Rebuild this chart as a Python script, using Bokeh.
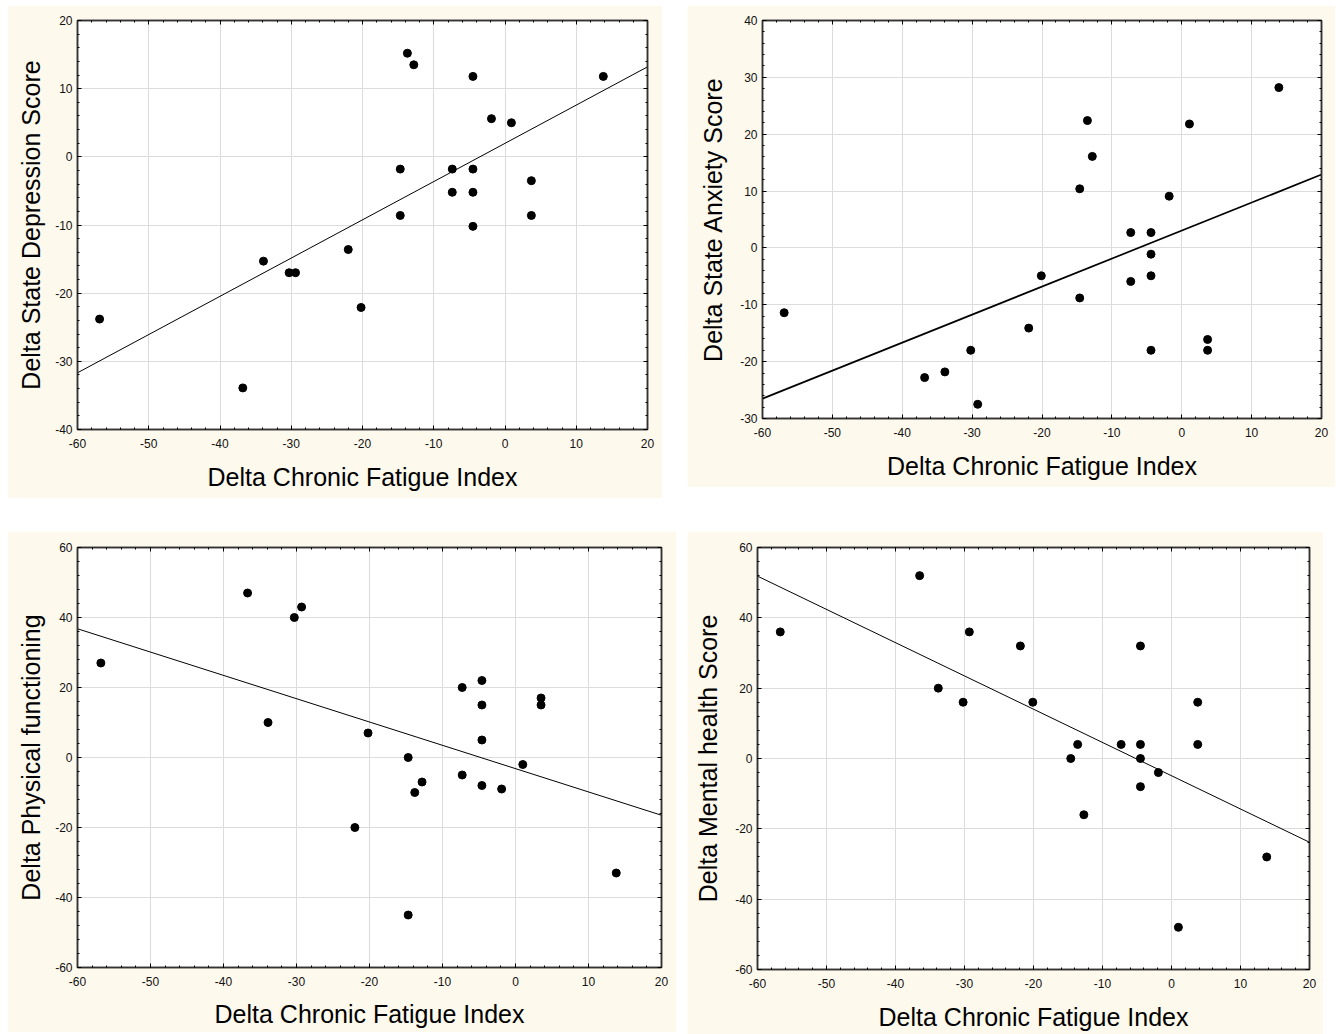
import numpy as np
from bokeh.plotting import figure
from bokeh.models import (LinearAxis, SingleIntervalTicker, Range1d, Spacer, Grid,
                          CustomLabelingPolicy, PrintfTickFormatter)
from bokeh.layouts import row, column
from bokeh.embed import file_html
from bokeh.resources import INLINE

# ---------------- data ----------------
x_label = "Delta Chronic Fatigue Index"
x_lo, x_hi = -60, 20

dep_cfi = [-56.9, -36.8, -33.9, -30.3, -29.4, -22.0, -20.2, -14.7, -14.7, -13.7, -12.8,
           -7.4, -7.4, -4.5, -4.5, -4.5, -4.5, -1.9, 0.9, 3.7, 3.7, 13.8]
dep_score = [-23.8, -33.9, -15.3, -17.0, -17.0, -13.6, -22.1, -1.8, -8.6, 15.2, 13.5,
             -1.8, -5.2, 11.8, -1.8, -5.2, -10.2, 5.6, 5.0, -3.5, -8.6, 11.8]
dep_fit = [1.98, 0.561]          # intercept, slope

anx_cfi = [-56.9, -36.8, -33.9, -30.2, -29.2, -21.9, -20.1, -14.6, -14.6, -13.5, -12.8,
           -7.3, -7.3, -4.4, -4.4, -4.4, -4.4, -1.8, 1.1, 3.7, 3.7, 13.9]
anx_score = [-11.4, -22.8, -21.8, -18.0, -27.5, -14.1, -4.9, 10.4, -8.8, 22.4, 16.1,
             2.7, -5.9, 2.7, -1.1, -4.9, -18.0, 9.1, 21.8, -16.1, -18.0, 28.2]
anx_fit = [3.05, 0.4925]

phys_cfi = [-56.8, -36.7, -33.9, -30.3, -29.3, -22.0, -20.2, -14.7, -14.7, -13.8, -12.8,
            -7.3, -7.3, -4.6, -4.6, -4.6, -4.6, -1.9, 1.0, 3.5, 3.5, 13.8]
phys_score = [27, 47, 10, 40, 43, -20, 7, 0, -45, -10, -7,
              20, -5, 22, 15, 5, -8, -9, -2, 17, 15, -33]
phys_fit = [-3.18, -0.666]

ment_cfi = [-56.7, -36.5, -33.8, -30.2, -29.3, -21.9, -20.1, -14.6, -13.6, -12.7,
            -7.3, -4.5, -4.5, -4.5, -4.5, -1.9, 1.0, 3.8, 3.8, 13.8]
ment_score = [36, 52, 20, 16, 36, 32, 16, 0, 4, -16,
              4, 32, 4, 0, -8, -4, -48, 16, 4, -28]
ment_fit = [-4.9, -0.946]

# ---------------- style ----------------
CREAM = "#FEF9ED"
GRID = "#DCDCDC"
FRAME = "#333333"
FONT = "Liberation Sans"

NO_LABELS = CustomLabelingPolicy(code="""
for (const i of indices) { indices.unset(i) }
return indices
""")


def make_panel(xs, ys, fit, ylabel, ylo, yhi, ystep, W, H, bl, br, bt, bb,
               fit_w, xs1, xs2, ys1, ys2):
    p = figure(width=W, height=H, x_range=Range1d(x_lo, x_hi), y_range=Range1d(ylo, yhi),
               output_backend="svg", toolbar_location=None,
               x_axis_location=None, y_axis_location=None,
               min_border_left=bl, min_border_right=br,
               min_border_top=bt, min_border_bottom=bb)
    p.background_fill_color = "white"
    p.border_fill_color = CREAM
    p.outline_line_color = FRAME
    p.outline_line_width = 1.5

    xt = SingleIntervalTicker(interval=10, num_minor_ticks=5)
    yt = SingleIntervalTicker(interval=ystep, num_minor_ticks=5)

    p.add_layout(Grid(dimension=0, ticker=xt, grid_line_color=GRID, grid_line_width=1))
    p.add_layout(Grid(dimension=1, ticker=yt, grid_line_color=GRID, grid_line_width=1))

    for loc, tk, lab in [("below", xt, x_label), ("left", yt, ylabel),
                         ("above", xt, None), ("right", yt, None)]:
        ax = LinearAxis(ticker=tk, formatter=PrintfTickFormatter(format="%d"))
        ax.axis_line_color = FRAME
        ax.axis_line_width = 1.5
        ax.major_tick_in = 4
        ax.major_tick_out = 0
        ax.minor_tick_in = 2
        ax.minor_tick_out = 0
        ax.major_tick_line_color = "black"
        ax.minor_tick_line_color = "black"
        if lab is None:
            ax.major_label_policy = NO_LABELS
            ax.major_label_text_font_size = "1px"
            ax.major_label_standoff = 0
        else:
            ax.axis_label = lab
            ax.axis_label_text_font = FONT
            ax.axis_label_text_font_style = "normal"
            ax.axis_label_text_font_size = "25px"
            ax.axis_label_text_color = "black"
            ax.major_label_text_font = FONT
            ax.major_label_text_font_size = "12px"
            ax.major_label_text_color = "#111111"
            if loc == "below":
                ax.major_label_standoff = xs1
                ax.axis_label_standoff = xs2
            else:
                ax.major_label_standoff = ys1
                ax.axis_label_standoff = ys2
        p.add_layout(ax, loc)

    lx = np.array([x_lo, x_hi], dtype=float)
    ly = fit[0] + fit[1] * lx
    p.line(lx, ly, line_color="black", line_width=fit_w)
    p.scatter(xs, ys, size=8, fill_color="black", line_color="black")
    return p


p1 = make_panel(dep_cfi, dep_score, dep_fit, "Delta State Depression Score",
                -40, 20, 10, 655, 493, 70, 15, 15, 65, 1.0, 9, 12, 5, 7)
p2 = make_panel(anx_cfi, anx_score, anx_fit, "Delta State Anxiety Score",
                -30, 40, 10, 648, 482, 75, 14, 15, 69, 1.7, 9, 12, 5, 10)
p3 = make_panel(phys_cfi, phys_score, phys_fit, "Delta Physical functioning",
                -60, 60, 20, 669, 501, 70, 15, 16, 65, 1.0, 9, 11, 5, 7)
p4 = make_panel(ment_cfi, ment_score, ment_fit, "Delta Mental health Score",
                -60, 60, 20, 636, 503, 70, 14, 16, 59, 1.0, 9, 12, 5, 10)

layout = column(
    Spacer(width=10, height=5),
    row(Spacer(width=7, height=10), p1, Spacer(width=25, height=10), p2),
    Spacer(width=10, height=33),
    row(Spacer(width=7, height=10), p3, Spacer(width=11, height=10), p4),
)

open("out.html", "w").write(file_html(layout, INLINE))
